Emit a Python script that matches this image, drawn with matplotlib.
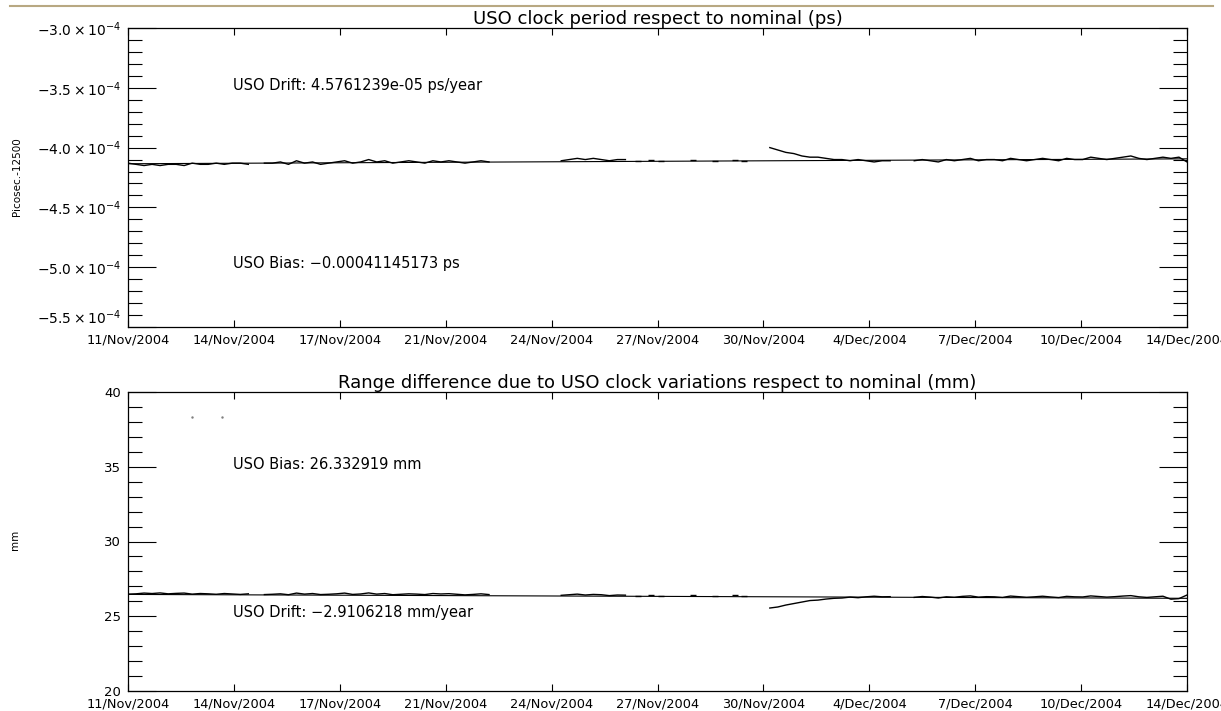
import numpy as np
import matplotlib
matplotlib.use("Agg")
import matplotlib.pyplot as plt
from matplotlib.lines import Line2D
from matplotlib.ticker import MultipleLocator

# x axis: days since 11/Nov/2004
tick_labels = ["11/Nov/2004", "14/Nov/2004", "17/Nov/2004", "21/Nov/2004",
               "24/Nov/2004", "27/Nov/2004", "30/Nov/2004", "4/Dec/2004",
               "7/Dec/2004", "10/Dec/2004", "14/Dec/2004"]
span_days = 33.0

# sampling segments (start day, step) -- data gaps between them
seg_a1 = (0.0, 0.25)
seg_a2 = (4.25, 0.25)
seg_b = (13.5, 0.25)
seg_c = (20.0, 0.25)
seg_d = (24.5, 0.25)
dot_days = [15.9, 16.3, 16.6, 17.6, 18.3, 18.9, 19.2]

# top panel: clock period minus 12500 ps, in units of 1e-4 ps
top_a1 = [-4.13, -4.14, -4.15, -4.14, -4.15, -4.14, -4.14, -4.15, -4.13, -4.14,
          -4.14, -4.13, -4.14, -4.13, -4.13, -4.14]
top_a2 = [-4.13, -4.13, -4.12, -4.14, -4.11, -4.13, -4.12, -4.14, -4.13, -4.12,
          -4.11, -4.13, -4.12, -4.10, -4.12, -4.11, -4.13, -4.12, -4.11, -4.12,
          -4.13, -4.11, -4.12, -4.11, -4.12, -4.13, -4.12, -4.11, -4.12]
top_b = [-4.11, -4.10, -4.09, -4.10, -4.09, -4.10, -4.11, -4.10, -4.10]
top_dots = [-4.11, -4.10, -4.11, -4.10, -4.11, -4.10, -4.11]
top_c = [-4.00, -4.02, -4.04, -4.05, -4.07, -4.08, -4.08, -4.09, -4.10, -4.10,
         -4.11, -4.10, -4.11, -4.12, -4.11, -4.11]
top_d = [-4.11, -4.10, -4.11, -4.12, -4.10, -4.11, -4.10, -4.09, -4.11, -4.10,
         -4.10, -4.11, -4.09, -4.10, -4.11, -4.10, -4.09, -4.10, -4.11, -4.09,
         -4.10, -4.10, -4.08, -4.09, -4.10, -4.09, -4.08, -4.07, -4.09, -4.10,
         -4.09, -4.08, -4.09, -4.08, -4.12]
top_fit = [-4.135, -4.094]

# bottom panel: range difference (mm)
bot_a1 = [26.48, 26.50, 26.55, 26.52, 26.56, 26.50, 26.53, 26.55, 26.48, 26.52,
          26.50, 26.47, 26.52, 26.49, 26.46, 26.50]
bot_a2 = [26.45, 26.47, 26.50, 26.44, 26.55, 26.48, 26.52, 26.45, 26.47, 26.50,
          26.55, 26.46, 26.49, 26.56, 26.48, 26.52, 26.44, 26.47, 26.50, 26.48,
          26.45, 26.52, 26.49, 26.51, 26.47, 26.43, 26.46, 26.50, 26.45]
bot_b = [26.40, 26.44, 26.48, 26.42, 26.46, 26.44, 26.38, 26.42, 26.41]
bot_dots = [26.35, 26.40, 26.33, 26.42, 26.36, 26.40, 26.35]
bot_c = [25.55, 25.62, 25.75, 25.85, 25.95, 26.05, 26.08, 26.15, 26.20, 26.22,
         26.28, 26.24, 26.30, 26.34, 26.30, 26.31]
bot_d = [26.26, 26.32, 26.28, 26.22, 26.30, 26.27, 26.33, 26.36, 26.28, 26.31,
         26.30, 26.26, 26.35, 26.31, 26.27, 26.30, 26.34, 26.29, 26.25, 26.33,
         26.30, 26.29, 26.36, 26.32, 26.28, 26.31, 26.35, 26.38, 26.30, 26.26,
         26.30, 26.34, 26.14, 26.18, 26.42]
bot_fit = [26.46, 26.20]
stray_days = [2.0, 2.93]
stray_vals = [38.3, 38.3]

W, H = 1221, 711
fig = plt.figure(figsize=(W / 100, H / 100), dpi=100)

def box(left, top, right, bottom):
    return [left / W, 1 - bottom / H, (right - left) / W, (bottom - top) / H]

ax1 = fig.add_axes(box(128, 28, 1187, 327))
ax2 = fig.add_axes(box(128, 392, 1187, 691))

def seg_days(seg, vals):
    return seg[0] + seg[1] * np.arange(len(vals))

def draw(ax, segs, dots, fit, scale):
    for seg, vals in segs:
        ax.plot(seg_days(seg, vals), np.array(vals) * scale, color="black", lw=1.0)
    ax.plot(dot_days, np.array(dots) * scale, ls="none", marker="_", ms=4, mew=1.0, color="black")
    ax.plot([0, span_days], np.array(fit) * scale, color="black", lw=0.8)

draw(ax1, [(seg_a1, top_a1), (seg_a2, top_a2), (seg_b, top_b), (seg_c, top_c), (seg_d, top_d)],
     top_dots, top_fit, 1e-4)
draw(ax2, [(seg_a1, bot_a1), (seg_a2, bot_a2), (seg_b, bot_b), (seg_c, bot_c), (seg_d, bot_d)],
     bot_dots, bot_fit, 1.0)
ax2.plot(stray_days, stray_vals, ls="none", marker=".", ms=1.5, color="0.5")

xticks = np.linspace(0, span_days, len(tick_labels))
for ax in (ax1, ax2):
    ax.set_xlim(0, span_days)
    ax.set_xticks(xticks)
    ax.set_xticklabels(tick_labels, fontsize=9.3)
    ax.tick_params(axis="x", direction="in", length=5, top=True, pad=5, width=0.8)
    ax.tick_params(axis="y", which="major", direction="in", length=20, right=True, pad=5, width=0.8)
    ax.tick_params(axis="y", which="minor", direction="in", length=10, right=True, width=0.8)
    for s in ax.spines.values():
        s.set_linewidth(0.9)

ax1.set_ylim(-5.5e-4, -3.0e-4)
yt1 = [-3.0e-4, -3.5e-4, -4.0e-4, -4.5e-4, -5.0e-4, -5.5e-4]
yl1 = [r"$-3.0\times10^{-4}$", r"$-3.5\times10^{-4}$", r"$-4.0\times10^{-4}$",
       r"$-4.5\times10^{-4}$", r"$-5.0\times10^{-4}$", r"$-5.5\times10^{-4}$"]
ax1.set_yticks(yt1)
ax1.set_yticklabels(yl1, fontsize=10)
ax1.yaxis.set_minor_locator(MultipleLocator(0.1e-4))
# keep the lowest label clear of the first date label
ax1.get_yticklabels()[-1].set_va("bottom")

ax2.set_ylim(20, 40)
ax2.set_yticks([20, 25, 30, 35, 40])
ax2.set_yticklabels(["20", "25", "30", "35", "40"], fontsize=9.5)
ax2.yaxis.set_minor_locator(MultipleLocator(1))

ax1.set_title("USO clock period respect to nominal (ps)", fontsize=13, pad=3)
ax2.set_title("Range difference due to USO clock variations respect to nominal (mm)",
              fontsize=13, pad=3)

ax1.text(3.27, -3.48e-4, "USO Drift: 4.5761239e-05 ps/year", fontsize=10.5, va="center")
ax1.text(3.27, -4.97e-4, "USO Bias: \u22120.00041145173 ps", fontsize=10.5, va="center")
ax2.text(3.27, 35.18, "USO Bias: 26.332919 mm", fontsize=10.5, va="center")
ax2.text(3.27, 25.23, "USO Drift: \u22122.9106218 mm/year", fontsize=10.5, va="center")

fig.text(17 / W, 1 - 177 / H, "Picosec.-12500", rotation=90, fontsize=7.5, ha="center", va="center")
fig.text(15 / W, 1 - 540 / H, "mm", rotation=90, fontsize=7.5, ha="center", va="center")

fig.add_artist(Line2D([10 / W, 1213 / W], [1 - 6 / H, 1 - 6 / H], color="#b8a882", lw=1.5))

fig.savefig("out.png", dpi=100)
